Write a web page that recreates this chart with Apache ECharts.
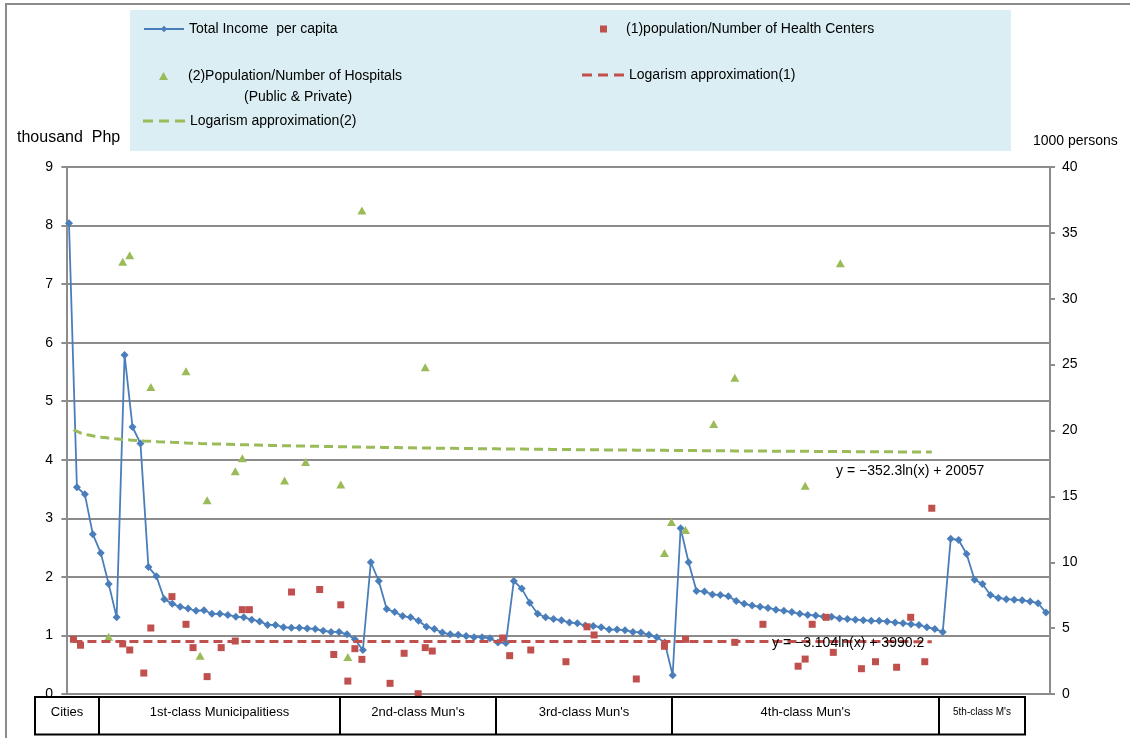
<!DOCTYPE html>
<html><head><meta charset="utf-8">
<script src="https://cdn.jsdelivr.net/npm/echarts@6/dist/echarts.min.js"></script>
<style>html,body{margin:0;padding:0;background:#fff}#c{width:1130px;height:738px}</style>
</head><body><div id="c"></div>
<script>
// ---------------- DATA ----------------
const groupNames = ['Cities', '1st-class Municipalitiess', "2nd-class Mun's", "3rd-class Mun's", "4th-class Mun's", "5th-class M's"];
// Total income per capita (thousand Php), each group sorted as in the source
const incomeCities = [8.04, 3.53, 3.41, 2.73, 2.41, 1.88, 1.31];
const income1st = [5.79, 4.56, 4.28, 2.17, 2.01, 1.62, 1.54, 1.49, 1.46, 1.42, 1.43, 1.37, 1.37, 1.35, 1.32, 1.31,
  1.27, 1.24, 1.18, 1.18, 1.14, 1.13, 1.13, 1.12, 1.11, 1.08, 1.06, 1.06, 1.02, 0.93, 0.75];
const income2nd = [2.25, 1.93, 1.45, 1.40, 1.33, 1.31, 1.25, 1.15, 1.11, 1.05, 1.02, 1.01, 0.99, 0.97, 0.97, 0.95, 0.88, 0.87];
const income3rd = [1.93, 1.80, 1.56, 1.37, 1.31, 1.28, 1.26, 1.22, 1.21, 1.17, 1.16, 1.14, 1.10, 1.10, 1.09, 1.06, 1.05, 1.01, 0.97, 0.88, 0.32];
const income4th = [2.83, 2.25, 1.76, 1.75, 1.70, 1.69, 1.67, 1.59, 1.54, 1.51, 1.49, 1.47, 1.44, 1.42, 1.40, 1.37, 1.35,
  1.34, 1.32, 1.32, 1.29, 1.28, 1.27, 1.26, 1.25, 1.25, 1.24, 1.22, 1.21, 1.19, 1.18, 1.14, 1.11, 1.06];
const income5th = [2.65, 2.63, 2.39, 1.95, 1.88, 1.69, 1.64, 1.62, 1.61, 1.60, 1.58, 1.55, 1.39];

// (1) population / number of health centers (1000 persons), [row number, value]
const healthCenters = [[1, 4.15], [2, 3.70], [8, 3.80], [9, 3.34], [11, 1.59], [12, 5.01], [15, 7.39], [17, 5.29], [18, 3.52],
  [20, 1.32], [22, 3.52], [24, 4.02], [25, 6.40], [26, 6.40], [32, 7.74], [36, 7.93], [38, 3.00], [39, 6.77], [40, 0.98],
  [41, 3.44], [42, 2.63], [46, 0.81], [48, 3.09], [50, 0.02], [51, 3.52], [52, 3.26], [62, 4.25], [63, 2.91], [66, 3.34],
  [71, 2.45], [74, 5.10], [75, 4.48], [81, 1.14], [85, 3.62], [88, 4.15], [95, 3.92], [99, 5.29], [104, 2.11], [105, 2.65],
  [106, 5.29], [108, 5.82], [109, 3.16], [113, 1.92], [115, 2.45], [118, 2.03], [120, 5.82], [122, 2.45], [123, 14.1]];

// (2) population / number of hospitals (1000 persons), [row number, value]
const hospitals = [[6, 4.35], [8, 32.8], [9, 33.3], [12, 23.3], [17, 24.5], [19, 2.9], [20, 14.7], [24, 16.9], [25, 17.9],
  [31, 16.2], [34, 17.6], [39, 15.9], [40, 2.8], [42, 36.7], [51, 24.8], [85, 10.7], [86, 13.05], [88, 12.45], [92, 20.5],
  [95, 24.0], [105, 15.8], [110, 32.7]];

// logarithmic trendlines as printed on the chart (persons): y = a ln(x) + b
const trend1Coef = [-3.104, 3990.2];
const trend2Coef = [-352.3, 20057];
const trendXRange = [1, 123];
const trend1Label = 'y = \u22123.104ln(x) + 3990.2';
const trend2Label = 'y = \u2212352.3ln(x) + 20057';

const leftAxisRange = [0, 9, 1];
const rightAxisRange = [0, 40, 5];

// ---------------- BUILD ----------------
const income = [].concat(incomeCities, income1st, income2nd, income3rd, income4th, income5th);
const categories = income.map((_, i) => String(i + 1));
function trendLine(coef) {
  const pts = [];
  for (let x = trendXRange[0]; x <= trendXRange[1]; x++) pts.push([x, (coef[0] * Math.log(x) + coef[1]) / 1000]);
  return pts;
}

const FONT = '"Liberation Sans", Arial, sans-serif';
const BLUE = '#4a7ebb', RED = '#c0504d', GREEN = '#9bbb59', GRID = '#8c8c8c';
const DASH_ICON = 'path://M0,0h10v3h-10z M16,0h10v3h-10z M32,0h10v3h-10z';

const legendText = { fontSize: 14, color: '#000', fontFamily: FONT, lineHeight: 16 };
function legend(name, left, top, w, h, icon, padLeft) {
  const item = icon ? { name: name, icon: icon } : { name: name };
  return {
    orient: 'horizontal', itemWidth: w, itemHeight: h, itemGap: 0, padding: 0, selectedMode: false,
    left: left, top: top, data: [item],
    textStyle: Object.assign({}, legendText, { padding: [0, 0, 0, padLeft || 0] })
  };
}

// category label boxes (layout)
const boxEdges = [35, 99, 340, 496, 672, 939, 1025];
const boxTop = 697, boxBottom = 734.5;
const graphics = [
  { type: 'rect', z: -10, shape: { x: 6, y: 4, width: 1400, height: 900 }, style: { fill: 'none', stroke: '#8c8c8c', lineWidth: 2 } },
  { type: 'rect', z: -5, shape: { x: 130, y: 10, width: 881, height: 141 }, style: { fill: '#dbeef3' } },
  { type: 'text', x: 244, y: 97, style: { text: '(Public & Private)', font: '14px ' + FONT, fill: '#000', verticalAlign: 'middle' } },
  { type: 'text', x: 17, y: 138, style: { text: 'thousand  Php', font: '16px ' + FONT, fill: '#000', verticalAlign: 'middle' } },
  { type: 'text', x: 1033, y: 141, style: { text: '1000 persons', font: '14px ' + FONT, fill: '#000', verticalAlign: 'middle' } },
  { type: 'text', x: 836, y: 471, z: 20, style: { text: trend2Label, font: '14px ' + FONT, fill: '#000', verticalAlign: 'middle' } },
  { type: 'text', x: 772, y: 643, z: 20, style: { text: trend1Label, font: '14px ' + FONT, fill: '#000', verticalAlign: 'middle' } },
  { type: 'rect', z: 5, shape: { x: boxEdges[0], y: boxTop, width: boxEdges[6] - boxEdges[0], height: boxBottom - boxTop },
    style: { fill: '#fff', stroke: '#000', lineWidth: 2 } }
];
for (let i = 1; i < boxEdges.length - 1; i++) {
  graphics.push({ type: 'line', z: 6, shape: { x1: boxEdges[i], y1: boxTop, x2: boxEdges[i], y2: boxBottom }, style: { stroke: '#000', lineWidth: 2 } });
}
groupNames.forEach((n, i) => {
  graphics.push({ type: 'text', z: 7, x: (boxEdges[i] + boxEdges[i + 1]) / 2, y: 712,
    style: { text: n, font: (i === 5 ? '10px ' : '13px ') + FONT, fill: '#000', align: 'center', verticalAlign: 'middle' } });
});

const axisLineStyle = { show: true, lineStyle: { color: GRID, width: 2 } };
const option = {
  animation: false,
  backgroundColor: '#fff',
  textStyle: { fontFamily: FONT },
  grid: { left: 65, right: 80, top: 167, bottom: 44, containLabel: false },
  legend: [
    legend('Total Income  per capita', 143, 21, 40, 8),
    legend('(1)population/Number of Health Centers', 600, 21, 7, 7, 'rect', 14),
    legend('(2)Population/Number of Hospitals', 159, 68, 9, 8, 'triangle', 15),
    legend('Logarism approximation(1)', 582, 67, 42, 3, DASH_ICON, 0),
    legend('Logarism approximation(2)', 143, 113, 42, 3, DASH_ICON, 0)
  ],
  xAxis: [
    { type: 'category', data: categories, boundaryGap: true, axisLine: axisLineStyle, axisTick: { show: false },
      axisLabel: { show: false }, splitLine: { show: false } },
    { type: 'value', min: -0.2, max: 139.8, show: false, position: 'top' }
  ],
  yAxis: [
    { type: 'value', min: leftAxisRange[0], max: leftAxisRange[1], interval: leftAxisRange[2], position: 'left',
      axisLine: axisLineStyle, axisTick: { show: true, length: 5, lineStyle: { color: GRID, width: 2 } },
      axisLabel: { color: '#000', fontSize: 14, margin: 12, fontFamily: FONT },
      splitLine: { show: true, lineStyle: { color: GRID, width: 2 } } },
    { type: 'value', min: rightAxisRange[0], max: rightAxisRange[1], interval: rightAxisRange[2], position: 'right',
      axisLine: axisLineStyle, axisTick: { show: true, length: 5, lineStyle: { color: GRID, width: 2 } },
      axisLabel: { color: '#000', fontSize: 14, margin: 12, fontFamily: FONT },
      splitLine: { show: false } }
  ],
  series: [
    { name: 'Total Income  per capita', type: 'line', xAxisIndex: 0, yAxisIndex: 0, data: income,
      symbol: 'diamond', symbolSize: 8, showAllSymbol: true, itemStyle: { color: BLUE, opacity: 1 },
      lineStyle: { color: BLUE, width: 1.8 }, z: 3 },
    { name: '(1)population/Number of Health Centers', type: 'scatter', xAxisIndex: 1, yAxisIndex: 1, data: healthCenters,
      symbol: 'rect', symbolSize: 7, itemStyle: { color: RED, opacity: 1 }, z: 4 },
    { name: '(2)Population/Number of Hospitals', type: 'scatter', xAxisIndex: 1, yAxisIndex: 1, data: hospitals,
      symbol: 'triangle', symbolSize: [9, 8], itemStyle: { color: GREEN, opacity: 1 }, z: 4 },
    { name: 'Logarism approximation(1)', type: 'line', xAxisIndex: 1, yAxisIndex: 1, data: trendLine(trend1Coef),
      symbol: 'none', itemStyle: { color: RED }, lineStyle: { color: RED, width: 3, type: [9, 5] }, z: 5 },
    { name: 'Logarism approximation(2)', type: 'line', xAxisIndex: 1, yAxisIndex: 1, data: trendLine(trend2Coef),
      symbol: 'none', itemStyle: { color: GREEN }, lineStyle: { color: GREEN, width: 3, type: [9, 5] }, z: 5 }
  ],
  graphic: graphics
};
const chart = echarts.init(document.getElementById('c'), null, { renderer: 'canvas' });
chart.setOption(option);
</script></body></html>
